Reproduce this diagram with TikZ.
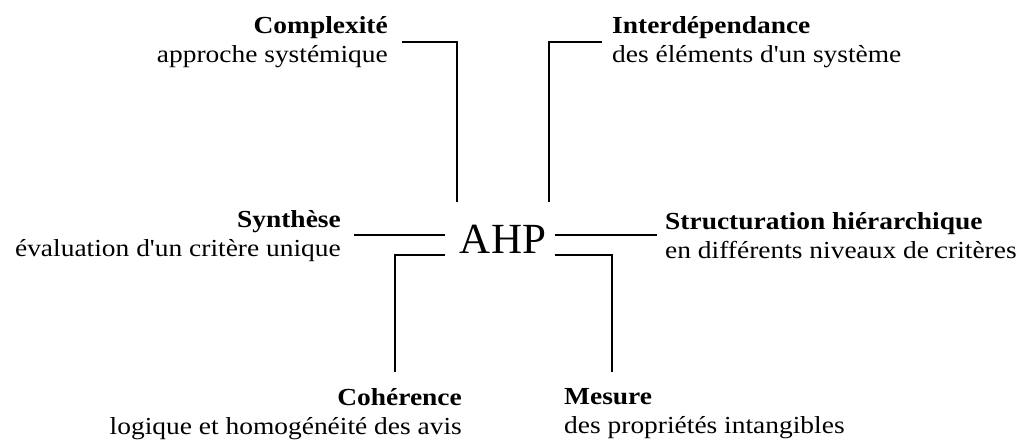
\documentclass[tikz,border=0pt]{standalone}
\usepackage{fontspec}
\setmainfont{Liberation Serif}[Ligatures=TeXOff, FakeStretch=1.12]
\newfontfamily\ahpfont{Liberation Serif}
\begin{document}
\begin{tikzpicture}[x=1pt,y=-1pt,
  lbl/.style={inner sep=0pt, font=\fontsize{24.5}{29}\selectfont},
  lblR/.style={lbl, align=right, anchor=east},
  lblL/.style={lbl, align=left, anchor=west},
  conn/.style={line width=1.6pt}]
\useasboundingbox (0,0) rectangle (1024,441);
\node[inner sep=0pt, font=\ahpfont\fontsize{43}{50}\selectfont] (ahp) at (503,239) {AHP};
\node[lblR] (cpx) at (388,42) {\textbf{Complexité}\\approche systémique};
\node[lblL] (itd) at (612,42) {\textbf{Interdépendance}\\des éléments d'un système};
\node[lblR] (syn) at (341,236) {\textbf{Synthèse}\\évaluation d'un critère unique};
\node[lblL] (str) at (665,236) {\textbf{Structuration hiérarchique}\\en différents niveaux de critères};
\node[lblR] (coh) at (462,414) {\textbf{Cohérence}\\logique et homogénéité des avis};
\node[lblL] (mes) at (564,414) {\textbf{Mesure}\\des propriétés intangibles};
\coordinate (cpxa) at (402,42); \coordinate (cpxb) at (457,202);
\coordinate (itda) at (602,42); \coordinate (itdb) at (549,202);
\coordinate (syna) at (354,235); \coordinate (synb) at (445,235);
\coordinate (stra) at (657,235); \coordinate (strb) at (555,235);
\coordinate (coha) at (395,372); \coordinate (cohb) at (445,255);
\coordinate (mesa) at (612,372); \coordinate (mesb) at (555,255);
\draw[conn] (cpxa) -| (cpxb);
\draw[conn] (itda) -| (itdb);
\draw[conn] (syna) -- (synb);
\draw[conn] (stra) -- (strb);
\draw[conn] (coha) |- (cohb);
\draw[conn] (mesa) |- (mesb);
\end{tikzpicture}
\end{document}
